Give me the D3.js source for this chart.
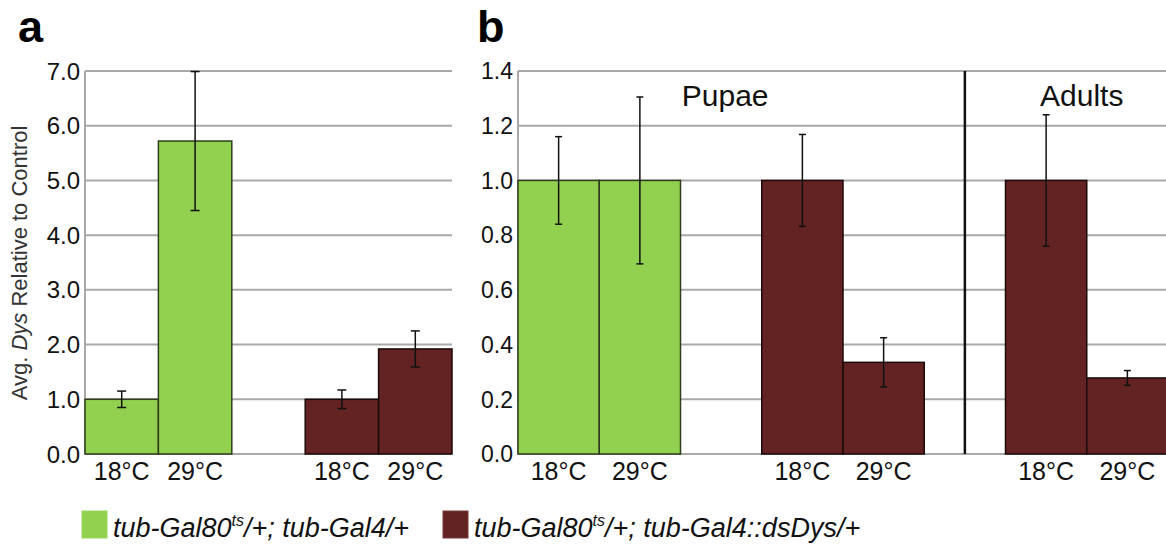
<!DOCTYPE html>
<html>
<head>
<meta charset="utf-8">
<script src="https://cdn.jsdelivr.net/npm/d3@7"></script>
<style>
  body { margin: 0; background: #fff; }
  svg { display: block; font-family: 'Liberation Sans', Arial, sans-serif; }
</style>
</head>
<body>
<svg id="chart" width="1166" height="548"></svg>
<script>
// Data
var genotypes = ['tub-Gal80', 'tub-Gal4/+', 'tub-Gal4::dsDys/+']
var genotypeColors = ['#92d050', '#622322']
var genotypeStrokes = ['#2e3d1c', '#1c0a0a']

// panel a: whole animals
var aSlots = ['ctl-18', 'ctl-29', 'gap', 'ds-18', 'ds-29']
var aKeys = ['ctl-18', 'ctl-29', 'ds-18', 'ds-29']
var aLabels = ['18°C', '29°C', '18°C', '29°C']
var aMeans = [1.0, 5.72, 1.0, 1.92]
var aErrors = [0.15, 1.27, 0.17, 0.33]
var aGenotype = [0, 0, 1, 1]
var aTicks = [0, 1, 2, 3, 4, 5, 6, 7]

// panel b: pupae and adults
var bSlots = ['p-ctl-18', 'p-ctl-29', 'gap', 'p-ds-18', 'p-ds-29', 'div', 'a-ds-18', 'a-ds-29']
var bKeys = ['p-ctl-18', 'p-ctl-29', 'p-ds-18', 'p-ds-29', 'a-ds-18', 'a-ds-29']
var bLabels = ['18°C', '29°C', '18°C', '29°C', '18°C', '29°C']
var bMeans = [1.0, 1.0, 1.0, 0.335, 1.0, 0.278]
var bErrors = [0.16, 0.305, 0.168, 0.09, 0.24, 0.027]
var bGenotype = [0, 0, 1, 1, 1, 1]
var bTicks = [0, 0.2, 0.4, 0.6, 0.8, 1.0, 1.2, 1.4]
var stageLabels = ['Pupae', 'Adults']

var svg = d3.select('#chart')

function drawPanel(opts) {
  var x = d3.scaleBand().domain(opts.slots).range(opts.xRange).padding(0)
  var y = d3.scaleLinear().domain(opts.yDomain).range([454, 71])
  var g = svg.append('g')

  // gridlines
  g.selectAll('.grid')
    .data(opts.ticks)
    .enter()
    .append('line')
    .attr('x1', opts.xRange[0])
    .attr('x2', opts.xRange[1])
    .attr('y1', d => y(d))
    .attr('y2', d => y(d))
    .attr('stroke', '#a9a9a9')
    .attr('stroke-width', 2)

  // left axis line
  g.append('line')
    .attr('x1', opts.xRange[0])
    .attr('x2', opts.xRange[0])
    .attr('y1', y(opts.yDomain[1]))
    .attr('y2', y(0))
    .attr('stroke', '#a9a9a9')
    .attr('stroke-width', 2)

  // tick labels
  g.selectAll('.tick')
    .data(opts.ticks)
    .enter()
    .append('text')
    .attr('x', opts.xRange[0] - 5)
    .attr('y', d => y(d))
    .attr('dy', '0.36em')
    .attr('text-anchor', 'end')
    .attr('font-size', opts.tickSize)
    .attr('fill', '#111')
    .text(d => d3.format('.1f')(d))

  var rows = opts.keys.map((k, i) => ({
    key: k, mean: opts.means[i], err: opts.errors[i], gt: opts.genotype[i], label: opts.labels[i]
  }))

  // bars
  g.selectAll('.bar')
    .data(rows)
    .enter()
    .append('rect')
    .attr('x', d => x(d.key))
    .attr('width', x.bandwidth())
    .attr('y', d => y(d.mean))
    .attr('height', d => y(0) - y(d.mean))
    .attr('fill', d => genotypeColors[d.gt])
    .attr('stroke', d => genotypeStrokes[d.gt])
    .attr('stroke-width', 1.5)

  // error bars
  var eb = g.selectAll('.err')
    .data(rows)
    .enter()
    .append('g')
    .attr('stroke', '#111')
    .attr('stroke-width', 1.5)
  eb.append('line')
    .attr('x1', d => x(d.key) + x.bandwidth() / 2)
    .attr('x2', d => x(d.key) + x.bandwidth() / 2)
    .attr('y1', d => y(d.mean - d.err))
    .attr('y2', d => y(d.mean + d.err))
  eb.selectAll('.cap')
    .data(d => [d.mean - d.err, d.mean + d.err].map(v => ({ key: d.key, v: v })))
    .enter()
    .append('line')
    .attr('x1', d => x(d.key) + x.bandwidth() / 2 - opts.cap)
    .attr('x2', d => x(d.key) + x.bandwidth() / 2 + opts.cap)
    .attr('y1', d => y(d.v))
    .attr('y2', d => y(d.v))

  // category labels
  g.selectAll('.xlab')
    .data(rows)
    .enter()
    .append('text')
    .attr('x', d => x(d.key) + x.bandwidth() / 2)
    .attr('y', 480)
    .attr('text-anchor', 'middle')
    .attr('font-size', 25)
    .attr('fill', '#111')
    .text(d => d.label)

  return { x: x, y: y, g: g }
}

var pa = drawPanel({
  slots: aSlots, keys: aKeys, means: aMeans, errors: aErrors, genotype: aGenotype,
  labels: aLabels, ticks: aTicks, yDomain: [0, 7], xRange: [85, 452], tickSize: 24, cap: 4.5
})

var pb = drawPanel({
  slots: bSlots, keys: bKeys, means: bMeans, errors: bErrors, genotype: bGenotype,
  labels: bLabels, ticks: bTicks, yDomain: [0, 1.4], xRange: [518, 1168], tickSize: 23, cap: 3.5
})

// divider between pupae and adults
pb.g.append('line')
  .attr('x1', pb.x('div') + pb.x.bandwidth() / 2)
  .attr('x2', pb.x('div') + pb.x.bandwidth() / 2)
  .attr('y1', pb.y(1.4))
  .attr('y2', pb.y(0))
  .attr('stroke', '#111')
  .attr('stroke-width', 2.5)

// stage labels
pb.g.append('text')
  .attr('x', pb.x('gap') + pb.x.bandwidth() / 2 + 4)
  .attr('y', 106)
  .attr('text-anchor', 'middle')
  .attr('font-size', 30)
  .attr('fill', '#111')
  .text(stageLabels[0])
pb.g.append('text')
  .attr('x', pb.x('a-ds-29') - 5)
  .attr('y', 106)
  .attr('text-anchor', 'middle')
  .attr('font-size', 30)
  .attr('fill', '#111')
  .text(stageLabels[1])

// y-axis title
var yt = svg.append('text')
  .attr('transform', 'translate(27,263) rotate(-90)')
  .attr('text-anchor', 'middle')
  .attr('font-size', 22)
  .attr('fill', '#333')
yt.append('tspan').text('Avg. ')
yt.append('tspan').attr('font-style', 'italic').text('Dys')
yt.append('tspan').text(' Relative to Control')

// panel letters
svg.append('text').attr('x', 18).attr('y', 42).attr('font-size', 45).attr('font-weight', 'bold').text('a')
svg.append('text').attr('x', 477).attr('y', 42).attr('font-size', 45).attr('font-weight', 'bold').text('b')

// legend
var legendX = [82, 443]
var legendSuffix = [genotypes[1], genotypes[2]]
legendX.forEach(function(lx, i) {
  svg.append('rect')
    .attr('x', lx).attr('y', 511).attr('width', 25).attr('height', 27)
    .attr('fill', genotypeColors[i])
    .attr('stroke', i === 0 ? '#9ad85a' : '#7a3a38')
    .attr('stroke-width', 1)
  var t = svg.append('text')
    .attr('x', lx + 31).attr('y', 537)
    .attr('font-size', 27)
    .attr('font-style', 'italic')
    .attr('fill', '#111')
  t.append('tspan').text(genotypes[0])
  t.append('tspan').attr('font-size', 16).attr('dy', -11).text('ts')
  t.append('tspan').attr('dy', 11).text('/+; ' + legendSuffix[i])
})
</script>
</body>
</html>
